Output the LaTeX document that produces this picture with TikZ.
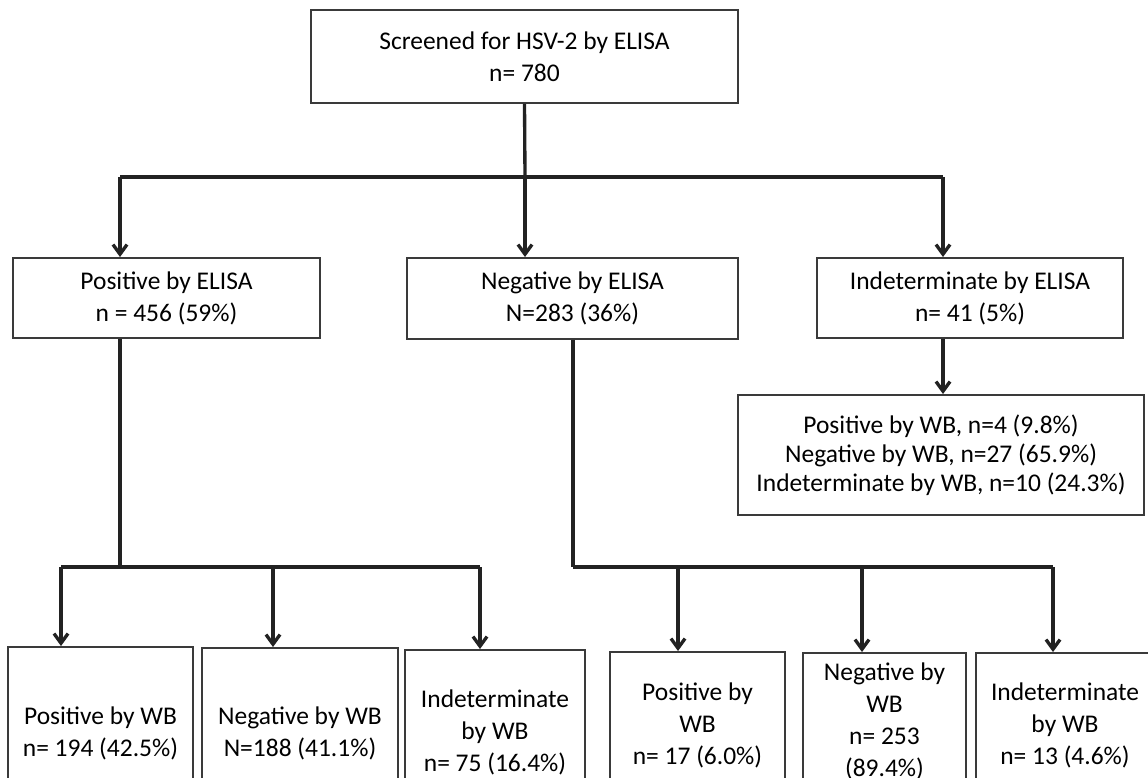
\documentclass[tikz,border=0pt]{standalone}
\usepackage{fontspec}
\setmainfont{Carlito}
\usepackage{tikz}
\usetikzlibrary{arrows.meta, positioning, calc}
\definecolor{frameg}{HTML}{3A3A3A}
\definecolor{linek}{HTML}{222222}

\begin{document}
\begin{tikzpicture}[
  x=0.02cm, y=-0.02cm,
  box/.style={rectangle, draw=frameg, line width=1.1pt, fill=white,
    align=center, inner sep=2pt,
    font=\fontsize{14.5}{18.2}\selectfont},
  wbbox/.style={box, font=\fontsize{14.5}{16.6}\selectfont},
  boxsize/.style 2 args={minimum width=#1*0.02cm, minimum height=#2*0.02cm},
  conn/.style={line width=1.9pt, color=linek, line join=miter},
  arr/.style={conn, -{Straight Barb[length=5.5pt, width=8pt]}}
]
  \path[use as bounding box, clip] (0,0) rectangle (1148,777);

  % top
  \node[box, boxsize={427}{93}] (screen) at (524.5,56.5)
    {Screened for HSV-2 by ELISA\\n= 780};

  % ELISA results
  \node[box, boxsize={307}{80}] (posE) at (166.5,298)
    {Positive by ELISA\\n = 456 (59\%)};
  \node[box, boxsize={331}{81}] (negE) at (572.5,298.5)
    {Negative by ELISA\\N=283 (36\%)};
  \node[box, boxsize={306}{80}] (indE) at (970,298)
    {Indeterminate by ELISA\\n= 41 (5\%)};
  \node[wbbox, boxsize={406}{120}] (indWB) at (941,455)
    {Positive by WB, n=4 (9.8\%)\\Negative by WB, n=27 (65.9\%)\\Indeterminate by WB, n=10 (24.3\%)};

  % WB results, positive branch
  \node[box, boxsize={185}{172}] (posWB1) at (100.5,733)
    {Positive by WB\\n= 194 (42.5\%)};
  \node[box, boxsize={196}{170}] (negWB1) at (300,733)
    {Negative by WB\\N=188 (41.1\%)};
  \node[box, boxsize={180}{164}] (indWB1) at (495,732)
    {Indeterminate\\by WB\\n= 75 (16.4\%)};

  % WB results, negative branch
  \node[box, boxsize={175}{146}] (posWB2) at (697.5,725)
    {Positive by\\WB\\n= 17 (6.0\%)};
  \node[box, boxsize={163}{136}] (negWB2) at (884.5,721)
    {Negative by\\WB\\n= 253\\(89.4\%)};
  \node[box, boxsize={178}{144}] (indWB2) at (1065,725)
    {Indeterminate\\by WB\\n= 13 (4.6\%)};

  % branch points
  \coordinate (ta) at (120,177);
  \coordinate (tb) at (525,177);
  \coordinate (tc) at (943,177);
  \coordinate (la) at (61,567);
  \coordinate (lb) at (120,567);
  \coordinate (lc) at (273,567);
  \coordinate (ld) at (480,567);
  \coordinate (ra) at (573,567);
  \coordinate (rb) at (678,567);
  \coordinate (rc) at (862,567);
  \coordinate (rd) at (1053,567);

  \draw[conn] (screen.south) -- (tb);
  \draw[conn] (ta) -- (tc);
  \draw[arr] (ta) -- (ta |- posE.north);
  \draw[arr] (tb) -- (tb |- negE.north);
  \draw[arr] (tc) -- (tc |- indE.north);
  \draw[arr] (tc |- indE.south) -- (tc |- indWB.north);

  \draw[conn] (lb |- posE.south) -- (lb);
  \draw[conn] (la) -- (ld);
  \draw[arr] (la) -- (la |- posWB1.north);
  \draw[arr] (lc) -- (lc |- negWB1.north);
  \draw[arr] (ld) -- (ld |- indWB1.north);

  \draw[conn] (ra |- negE.south) -- (ra);
  \draw[conn] (ra) -- (rd);
  \draw[arr] (rb) -- (rb |- posWB2.north);
  \draw[arr] (rc) -- (rc |- negWB2.north);
  \draw[arr] (rd) -- (rd |- indWB2.north);
\end{tikzpicture}
\end{document}
